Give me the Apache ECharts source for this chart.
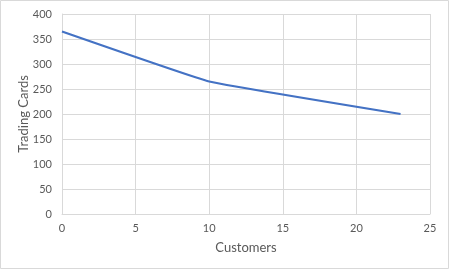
<!DOCTYPE html>
<html><head><meta charset="utf-8">
<script src="https://cdn.jsdelivr.net/npm/echarts@6/dist/echarts.min.js"></script>
<style>html,body{margin:0;padding:0;background:#fff}#c{width:450px;height:270px}</style>
</head><body><div id="c"></div>
<script>
const customers = [0, 10, 23];
const tradingCards = [365, 265, 200];
const xTitle = 'Customers';
const yTitle = 'Trading Cards';

const chart = echarts.init(document.getElementById('c'), null, {renderer: 'canvas'});
const font = 'Lato, "Liberation Sans", sans-serif';
const grid = '#d9d9d9';
chart.setOption({
  animation: false,
  graphic: [
    {type: 'rect', shape: {x: 0.5, y: 0.5, width: 448, height: 268}, style: {fill: 'none', stroke: '#d9d9d9', lineWidth: 1}, silent: true},
    {type: 'text', x: 24, y: 114, rotation: Math.PI / 2, style: {text: yTitle, fill: '#595959', font: '13px ' + font, align: 'center', verticalAlign: 'middle'}, silent: true}
  ],
  grid: {left: 62, right: 20, top: 14, bottom: 56},
  xAxis: {
    type: 'value', min: 0, max: 25, interval: 5,
    name: xTitle, nameLocation: 'middle', nameGap: 27,
    nameTextStyle: {color: '#595959', fontSize: 13, fontFamily: font},
    axisLine: {show: true, lineStyle: {color: grid}},
    axisTick: {show: false},
    axisLabel: {color: '#595959', fontSize: 11, fontFamily: font, margin: 9},
    splitLine: {show: true, lineStyle: {color: grid}}
  },
  yAxis: {
    type: 'value', min: 0, max: 400, interval: 50,
    axisLine: {show: true, lineStyle: {color: grid}},
    axisTick: {show: false},
    axisLabel: {color: '#595959', fontSize: 11, fontFamily: font, margin: 10},
    splitLine: {show: true, lineStyle: {color: grid}}
  },
  series: [{
    type: 'line',
    data: customers.map((c, i) => [c, tradingCards[i]]),
    showSymbol: false, symbol: 'none', smooth: 0.08,
    lineStyle: {color: '#4472c4', width: 2.25}
  }]
});
</script></body></html>
